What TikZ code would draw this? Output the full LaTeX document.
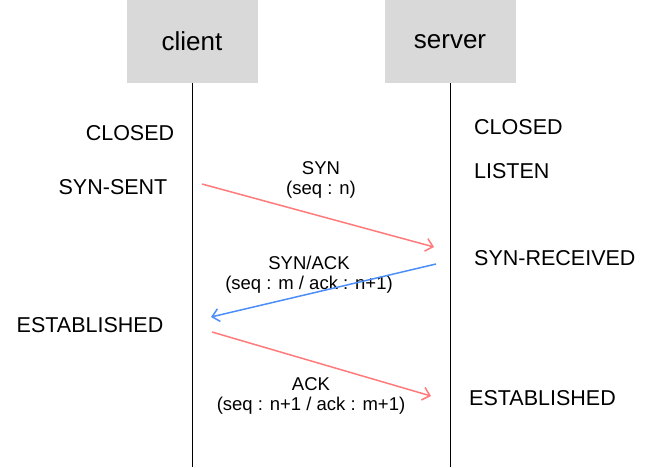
\documentclass[tikz,border=0pt]{standalone}
\usepackage{fontspec}
\setmainfont{Liberation Sans}
\usepackage{tikz}
\usetikzlibrary{arrows.meta}
\definecolor{boxgray}{HTML}{D9D9D9}
\definecolor{synred}{HTML}{FF7B7B}
\definecolor{ackblue}{HTML}{4C8EF7}

\begin{document}
\begin{tikzpicture}[x=1pt, y=-1pt, >={Straight Barb[length=7pt, width=13pt]},
    host/.style={fill=boxgray, minimum width=131pt, minimum height=83pt, inner sep=0pt, font=\fontsize{26}{30}\selectfont},
    state/.style={inner sep=0pt, anchor=base, font=\fontsize{21.5}{25}\selectfont},
    msg/.style={inner sep=0pt, anchor=base, font=\fontsize{18.5}{20}\selectfont}]

    \useasboundingbox (0,0) rectangle (660,467);

    \draw(192,41.5) node[host] (client) {client};
    \draw(450,41.5) node[host] (server) {server};
    \coordinate (clientend) at (192,467);
    \coordinate (serverend) at (450,467);
    \draw[line width=1pt] (client.south) -- (clientend);
    \draw[line width=1pt] (server.south) -- (serverend);

    \draw(130,140) node[state] (cclosed) {CLOSED};
    \draw(113,194) node[state] (csent) {SYN-SENT};
    \draw(90,332) node[state] (cest) {ESTABLISHED};
    \draw(474,134) node[state, anchor=base west] (sclosed) {CLOSED};
    \draw(474,178) node[state, anchor=base west] (slisten) {LISTEN};
    \draw(474,265) node[state, anchor=base west] (srecv) {SYN-RECEIVED};
    \draw(469,405) node[state, anchor=base west] (sest) {ESTABLISHED};

    \draw(321,174) node[msg] (syn) {SYN};
    \draw(321,194) node[msg] (synseq) {(seq : n)};
    \draw(309,269) node[msg] (synack) {SYN/ACK};
    \draw(309,289) node[msg] (synackseq) {(seq : m / ack : n+1)};
    \draw(311,390) node[msg] (ack) {ACK};
    \draw(311,410) node[msg] (ackseq) {(seq : n+1 / ack : m+1)};

    \coordinate (a1) at (202,184);
    \coordinate (b1) at (434,247);
    \coordinate (b2) at (436,264);
    \coordinate (a2) at (211,317);
    \coordinate (a3) at (212,332);
    \coordinate (b3) at (431,396);
    \draw[->, synred, line width=1.5pt] (a1) -- (b1);
    \draw[->, ackblue, line width=1.5pt] (b2) -- (a2);
    \draw[->, synred, line width=1.5pt] (a3) -- (b3);

\end{tikzpicture}
\end{document}
